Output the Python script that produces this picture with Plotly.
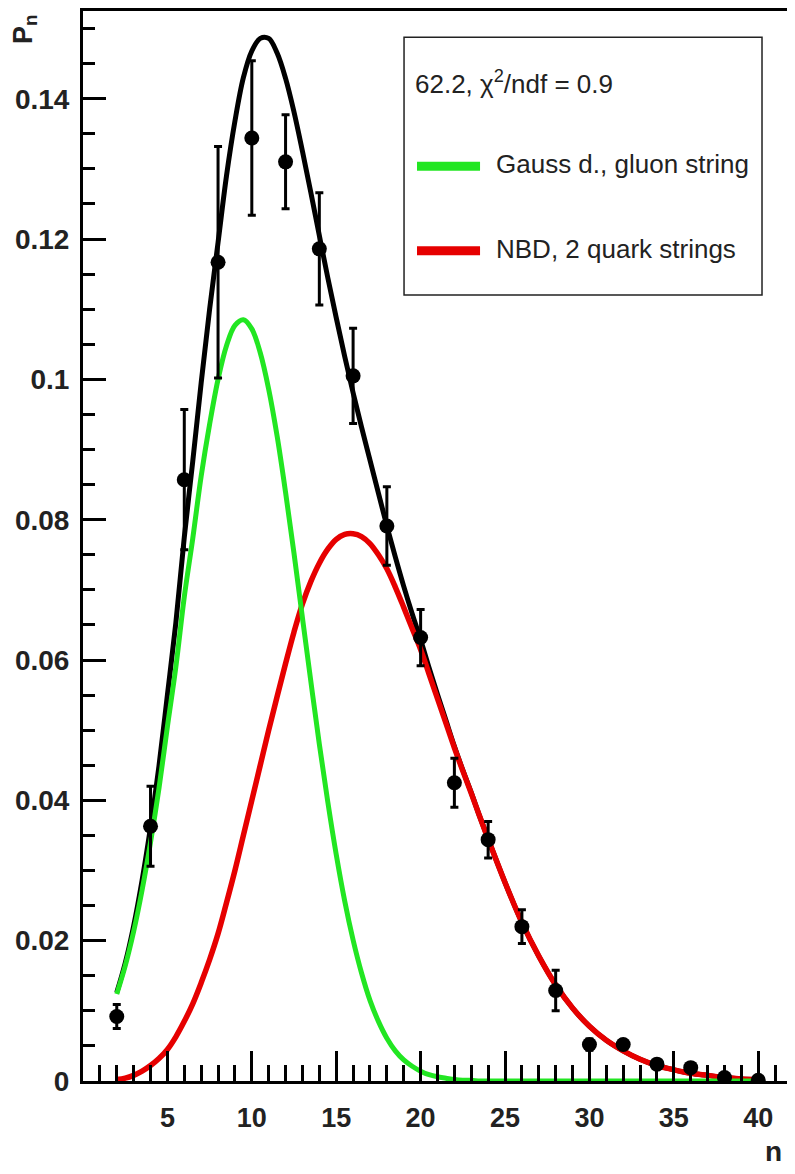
import plotly.graph_objects as go

# ---- data ----
n_data = [2, 4, 6, 8, 10, 12, 14, 16, 18, 20, 22, 24, 26, 28, 30, 32, 34, 36, 38, 40]
p_data = [0.0092, 0.0363, 0.0857, 0.1167, 0.1344, 0.1310, 0.1186, 0.1005, 0.0791, 0.0632,
          0.0425, 0.0344, 0.0220, 0.0129, 0.0052, 0.0052, 0.0024, 0.0019, 0.0005, 0.0001]
p_err = [0.0017, 0.0057, 0.0100, 0.0165, 0.0110, 0.0067, 0.0080, 0.0068, 0.0056, 0.0040,
         0.0035, 0.0026, 0.0024, 0.0029, 0.0008, 0.0006, 0.0004, 0.0004, 0.0003, 0.0002]

n_curve = [2, 2.5, 3, 3.5, 4, 4.5, 5, 5.5, 6, 6.5, 7, 7.5, 8, 8.5, 9, 9.5, 10, 10.5,
           11, 11.5, 12, 12.5, 13, 13.5, 14, 14.5, 15, 15.5, 16, 16.5, 17, 17.5, 18, 18.5,
           19, 19.5, 20, 20.5, 21, 21.5, 22, 22.5, 23, 23.5, 24,
           25, 26, 27, 28, 29, 30, 31, 32, 33, 34, 35, 36, 37, 38, 39, 40]
gauss_curve = [0.0124, 0.0164, 0.0213, 0.0272, 0.0340, 0.0417, 0.0505, 0.0590, 0.0690, 0.0773,
               0.0862, 0.0936, 0.1000, 0.1048, 0.1077, 0.1085, 0.1072, 0.1038, 0.0986, 0.0919,
               0.0839, 0.0752, 0.0660, 0.0569, 0.0480, 0.0398, 0.0323, 0.0257, 0.0201, 0.0154,
               0.0115, 0.0085, 0.0061, 0.0043, 0.0030, 0.0021, 0.0014, 0.0009, 0.0006, 0.0004,
               0.0002, 0.0001, 0.0001, 0.0, 0.0,
               0.0, 0.0, 0.0, 0.0, 0.0, 0.0, 0.0, 0.0, 0.0, 0.0, 0.0, 0.0, 0.0, 0.0, 0.0, 0.0]
nbd_curve = [0.0002, 0.0004, 0.0008, 0.0014, 0.0022, 0.0032, 0.0045, 0.0063, 0.0085, 0.0110,
             0.0140, 0.0173, 0.0210, 0.0254, 0.0300, 0.0350, 0.0400, 0.0450, 0.0500, 0.0548,
             0.0595, 0.0640, 0.0680, 0.0712, 0.0738, 0.0758, 0.0772, 0.0779, 0.0780, 0.0776,
             0.0766, 0.0750, 0.0730, 0.0704, 0.0675, 0.0645, 0.0615, 0.0580, 0.0545, 0.0510,
             0.0475, 0.0442, 0.0410, 0.0377, 0.0345,
             0.0283, 0.0226, 0.0178, 0.0137, 0.0104, 0.0078, 0.0058, 0.0043, 0.0031, 0.0022,
             0.0016, 0.0011, 0.0008, 0.0005, 0.0003, 0.0002]
total_curve = [0.0126, 0.0168, 0.0221, 0.0286, 0.0362, 0.0449, 0.0550, 0.0653, 0.0775, 0.0883,
               0.0995, 0.1100, 0.1195, 0.1290, 0.1368, 0.1430, 0.1468, 0.1486, 0.1486, 0.1465,
               0.1429, 0.1381, 0.1325, 0.1266, 0.1205, 0.1145, 0.1088, 0.1033, 0.0981, 0.0932,
               0.0885, 0.0838, 0.0791, 0.0747, 0.0705, 0.0666, 0.0629, 0.0589, 0.0551, 0.0514,
               0.0477, 0.0443, 0.0411, 0.0377, 0.0345,
               0.0283, 0.0226, 0.0178, 0.0137, 0.0104, 0.0078, 0.0058, 0.0043, 0.0031, 0.0022,
               0.0016, 0.0011, 0.0008, 0.0005, 0.0003, 0.0002]

x_tickvals = [5, 10, 15, 20, 25, 30, 35, 40]
y_tickvals = [0, 0.02, 0.04, 0.06, 0.08, 0.1, 0.12, 0.14]

legend_header = "62.2, χ<sup>2</sup>/ndf = 0.9"
gauss_label = "Gauss d., gluon string"
nbd_label = "NBD, 2 quark strings"

GREEN = "#22e622"
RED = "#e60000"
FONT = "Arial, Liberation Sans, sans-serif"

fig = go.Figure()
fig.add_trace(go.Scatter(x=n_curve, y=total_curve, mode="lines",
                         line=dict(color="black", width=5, shape="spline", smoothing=1.0),
                         showlegend=False))
fig.add_trace(go.Scatter(x=n_curve, y=nbd_curve, mode="lines",
                         line=dict(color=RED, width=5.5, shape="spline", smoothing=1.0),
                         showlegend=False))
fig.add_trace(go.Scatter(x=n_curve, y=gauss_curve, mode="lines",
                         line=dict(color=GREEN, width=5, shape="spline", smoothing=1.0),
                         showlegend=False))
fig.add_trace(go.Scatter(x=n_data, y=p_data, mode="markers",
                         marker=dict(color="black", size=15),
                         error_y=dict(type="data", array=p_err, color="black",
                                      thickness=3, width=4),
                         showlegend=False))

# legend box drawn manually
fig.add_shape(type="rect", xref="paper", yref="paper", x0=0.4528, x1=0.9577, y0=0.7345, y1=0.9755,
              line=dict(color="#222222", width=1.5), fillcolor="white", layer="above")
fig.add_shape(type="line", xref="paper", yref="paper", x0=0.4711, x1=0.5600, y0=0.855, y1=0.855,
              line=dict(color=GREEN, width=9))
fig.add_shape(type="line", xref="paper", yref="paper", x0=0.4711, x1=0.5600, y0=0.7759, y1=0.7759,
              line=dict(color=RED, width=9))
fig.add_annotation(xref="paper", yref="paper", x=0.4654, y=0.9331, text=legend_header,
                   showarrow=False, xanchor="left", yanchor="middle",
                   font=dict(family=FONT, size=26, color="#222222"))
fig.add_annotation(xref="paper", yref="paper", x=0.579, y=0.857, text=gauss_label,
                   showarrow=False, xanchor="left", yanchor="middle",
                   font=dict(family=FONT, size=26, color="#222222"))
fig.add_annotation(xref="paper", yref="paper", x=0.579, y=0.778, text=nbd_label,
                   showarrow=False, xanchor="left", yanchor="middle",
                   font=dict(family=FONT, size=26, color="#222222"))

# axis titles
fig.add_annotation(xref="paper", yref="paper", x=-0.082, y=0.983, text="P<sub>n</sub>",
                   textangle=-90, showarrow=False, xanchor="center", yanchor="middle",
                   font=dict(family=FONT, size=27, color="#222222", weight="bold"))
fig.add_annotation(xref="paper", yref="paper", x=0.974, y=-0.066, text="n",
                   showarrow=False, xanchor="center", yanchor="middle",
                   font=dict(family=FONT, size=28, color="#222222", weight="bold"))

fig.update_xaxes(range=[0, 42], tickmode="array", tickvals=x_tickvals,
                 ticks="inside", ticklen=30, tickwidth=3, tickcolor="black",
                 minor=dict(ticks="inside", dtick=1, tick0=0, ticklen=16, tickwidth=3, tickcolor="black"),
                 showline=True, linewidth=3, linecolor="black", mirror=True,
                 showgrid=False, zeroline=False, ticklabelstandoff=11, automargin=False,
                 tickfont=dict(family=FONT, size=27, color="#222222", weight="bold"))
fig.update_yaxes(range=[0, 0.1525], tickmode="array", tickvals=y_tickvals,
                 ticks="inside", ticklen=23, tickwidth=3, tickcolor="black",
                 minor=dict(ticks="inside", dtick=0.005, tick0=0, ticklen=12, tickwidth=3, tickcolor="black"),
                 showline=True, linewidth=3, linecolor="black", mirror=True,
                 showgrid=False, zeroline=False, ticklabelstandoff=5, automargin=False,
                 tickfont=dict(family=FONT, size=28, color="#222222", weight="bold"))

# the page body has an 8px margin, so the figure is sized to fit the window
fig.update_layout(width=787, height=1166,
                  margin=dict(l=75, r=3, t=3, b=93, autoexpand=False),
                  plot_bgcolor="white", paper_bgcolor="white", showlegend=False)

fig.write_html("out.html")
